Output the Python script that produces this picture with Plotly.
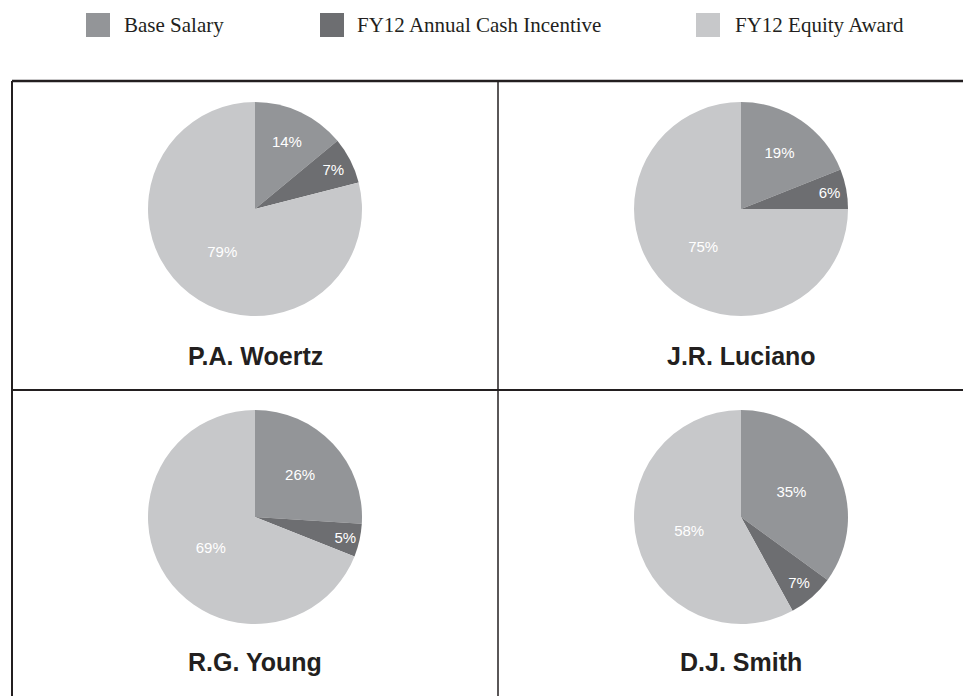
import plotly.graph_objects as go

# ---- data ----
components = ["Base Salary", "FY12 Annual Cash Incentive", "FY12 Equity Award"]
executives = ["P.A. Woertz", "J.R. Luciano", "R.G. Young", "D.J. Smith"]
base_salary = [14, 19, 26, 35]
cash_incentive = [7, 6, 5, 7]
equity_award = [79, 75, 69, 58]

colors = ["#939598", "#6d6e71", "#c7c8ca"]
ink = "#231f20"

# the page body adds an 8px margin, so the figure is shifted by it;
# positions below are given in window pixels
OFF = 8
W, H = 971 - OFF, 696 - OFF


def px(x):
    return (x - OFF) / W


def py(y):
    return 1 - (y - OFF) / H


# pie centres in window pixels (x, y), radius
centres = [(255, 209), (741, 209), (255, 517), (741, 517)]
R = 107
title_y = [356, 356, 662, 662]

fig = go.Figure()

for i, name in enumerate(executives):
    cx, cy = centres[i]
    fig.add_trace(
        go.Pie(
            labels=components,
            values=[base_salary[i], cash_incentive[i], equity_award[i]],
            sort=False,
            direction="clockwise",
            rotation=0,
            marker=dict(colors=colors, line=dict(width=0)),
            texttemplate="%{value}%",
            textposition="inside",
            insidetextorientation="horizontal",
            textfont=dict(family="Arial, Liberation Sans", size=15, color="white"),
            domain=dict(x=[px(cx - R), px(cx + R)], y=[py(cy + R), py(cy - R)]),
            hoverinfo="label+percent",
            showlegend=False,
        )
    )

annotations = []
for i, name in enumerate(executives):
    annotations.append(
        dict(
            text=f"<b>{name}</b>",
            x=px(centres[i][0]),
            y=py(title_y[i]),
            xref="paper",
            yref="paper",
            showarrow=False,
            xanchor="center",
            yanchor="middle",
            font=dict(family="Arial, Liberation Sans", size=25, color=ink),
        )
    )

# legend drawn by hand so it sits where the original does
legend_sq_x = [86, 320, 696]
legend_txt_x = [122, 355, 733]
shapes = []
for k, comp in enumerate(components):
    x0 = legend_sq_x[k]
    shapes.append(
        dict(
            type="rect", xref="paper", yref="paper",
            x0=px(x0), x1=px(x0 + 24), y0=py(37), y1=py(13),
            fillcolor=colors[k], line=dict(width=0),
        )
    )
    annotations.append(
        dict(
            text=comp,
            x=px(legend_txt_x[k]),
            y=py(25),
            xref="paper",
            yref="paper",
            showarrow=False,
            xanchor="left",
            yanchor="middle",
            font=dict(family="Liberation Serif, Times New Roman", size=21, color=ink),
        )
    )

# panel grid: (x0, y0, x1, y1, width)
grid = [
    (12, 81, 971, 81, 2.5),
    (12, 81, 12, 696, 2),
    (498, 81, 498, 696, 1.5),
    (12, 390, 971, 390, 2),
]
for x0, y0, x1, y1, w in grid:
    shapes.append(
        dict(
            type="line", xref="paper", yref="paper",
            x0=px(x0), y0=py(y0), x1=px(x1), y1=py(y1),
            line=dict(color=ink, width=w),
        )
    )

fig.update_layout(
    width=W,
    height=H,
    margin=dict(l=0, r=0, t=0, b=0),
    paper_bgcolor="white",
    plot_bgcolor="white",
    shapes=shapes,
    annotations=annotations,
    showlegend=False,
)

fig.write_html("out.html")
